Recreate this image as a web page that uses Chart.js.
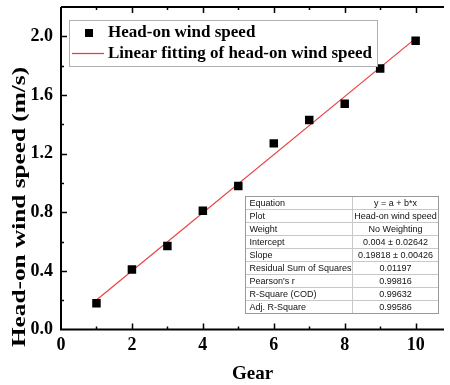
<!DOCTYPE html>
<html>
<head>
<meta charset="utf-8">
<script src="https://cdn.jsdelivr.net/npm/chart.js@4.4.0/dist/chart.umd.min.js"></script>
<style>
  html, body { margin: 0; padding: 0; background: #fff; }
  #wrap { width: 450px; height: 385px; }
</style>
</head>
<body>
<div id="wrap"><canvas id="myChart" width="450" height="385"></canvas></div>
<script>
// measured points
var gears = [1, 2, 3, 4, 5, 6, 7, 8, 9, 10];
var windSpeed = [0.18, 0.41, 0.57, 0.81, 0.98, 1.27, 1.43, 1.54, 1.78, 1.97];

// linear fit end points
var fitX = [1, 10];
var fitY = [0.202, 1.986];

var xTicks = [0, 2, 4, 6, 8, 10];
var yTicks = [0.0, 0.4, 0.8, 1.2, 1.6, 2.0];

var yTitle = 'Head-on wind speed (m/s)';

var statLabels = ['Equation', 'Plot', 'Weight', 'Intercept', 'Slope',
    'Residual Sum of Squares', "Pearson's r", 'R-Square (COD)', 'Adj. R-Square'];
var statValues = ['y = a + b*x', 'Head-on wind speed', 'No Weighting',
    '0.004 \u00b1 0.02642', '0.19818 \u00b1 0.00426', '0.01197', '0.99816', '0.99632', '0.99586'];

var serif = '"Liberation Serif", "Times New Roman", serif';
var sans = '"Liberation Sans", Arial, sans-serif';
var red = 'rgb(232,64,64)';

function pts(xs, ys) {
    var out = [];
    for (var i in xs) out.push({x: xs[i], y: ys[i]});
    return out;
}

function noPad(s) {
    s.paddingTop = 0; s.paddingBottom = 0;
    s.paddingLeft = 0; s.paddingRight = 0;
}

// frame + inward ticks (major and minor), like the Origin plot
var framePlugin = {
    id: 'frame',
    afterDraw: function (chart) {
        var ctx = chart.ctx;
        var a = chart.chartArea;
        var xs = chart.scales.x, ys = chart.scales.y;
        ctx.save();
        ctx.strokeStyle = '#000';
        ctx.lineWidth = 2;
        ctx.beginPath();
        ctx.moveTo(a.left, a.top); ctx.lineTo(a.right, a.top);
        ctx.moveTo(a.left, a.top); ctx.lineTo(a.left, a.bottom);
        ctx.lineTo(a.right, a.bottom);
        ctx.stroke();
        ctx.lineWidth = 1.5;
        ctx.beginPath();
        for (var v = 1; v <= 10; v++) {
            var px = Math.round(xs.getPixelForValue(v)) + 0.5;
            var len = (v % 2 === 0) ? 6 : 3;
            ctx.moveTo(px, a.bottom); ctx.lineTo(px, a.bottom - len);
            ctx.moveTo(px, a.top); ctx.lineTo(px, a.top + len);
        }
        for (var k = 1; k <= 10; k++) {
            var py = Math.round(ys.getPixelForValue(k * 0.2)) + 0.5;
            var l2 = (k % 2 === 0) ? 6 : 3;
            ctx.moveTo(a.left, py); ctx.lineTo(a.left + l2, py);
        }
        ctx.stroke();

        // y axis title, stretched along its length like the source image
        ctx.translate(20, 207);
        ctx.rotate(-Math.PI / 2);
        ctx.scale(1.33, 1);
        ctx.fillStyle = '#000';
        ctx.font = 'bold 19px ' + serif;
        ctx.textAlign = 'center';
        ctx.textBaseline = 'middle';
        ctx.fillText(yTitle, 0, 0);
        ctx.restore();
    }
};

// legend box in the upper left of the plot
var legendPlugin = {
    id: 'boxLegend',
    afterDraw: function (chart) {
        var ctx = chart.ctx;
        var a = chart.chartArea;
        var x0 = a.left + 8, y0 = a.top + 13;
        ctx.save();
        ctx.fillStyle = '#fff';
        ctx.fillRect(x0, y0, 308, 46);
        ctx.strokeStyle = '#b0b0b0';
        ctx.lineWidth = 1;
        ctx.strokeRect(x0 + 0.5, y0 + 0.5, 308, 46);
        ctx.fillStyle = '#000';
        ctx.fillRect(x0 + 16, y0 + 9, 8, 8);
        ctx.strokeStyle = red;
        ctx.lineWidth = 1.3;
        ctx.beginPath();
        ctx.moveTo(x0 + 3, y0 + 33.5); ctx.lineTo(x0 + 35, y0 + 33.5);
        ctx.stroke();
        ctx.fillStyle = '#000';
        ctx.font = 'bold 17px ' + serif;
        ctx.textBaseline = 'middle';
        ctx.fillText(chart.data.datasets[0].label, x0 + 39, y0 + 13);
        ctx.fillText(chart.data.datasets[1].label, x0 + 39, y0 + 34);
        ctx.restore();
    }
};

// fit statistics table
var tablePlugin = {
    id: 'statTable',
    afterDraw: function (chart) {
        var ctx = chart.ctx;
        var x0 = 245.5, y0 = 196.5, w = 193, rh = 13, c1 = 107;
        ctx.save();
        ctx.fillStyle = '#fff';
        ctx.fillRect(x0, y0, w, rh * statLabels.length);
        ctx.strokeStyle = '#c8c8c8';
        ctx.lineWidth = 1;
        ctx.beginPath();
        for (var i = 1; i < statLabels.length; i++) {
            ctx.moveTo(x0, y0 + i * rh); ctx.lineTo(x0 + w, y0 + i * rh);
        }
        ctx.moveTo(x0 + c1, y0); ctx.lineTo(x0 + c1, y0 + rh * statLabels.length);
        ctx.stroke();
        ctx.strokeStyle = '#999';
        ctx.strokeRect(x0, y0, w, rh * statLabels.length);
        ctx.fillStyle = '#111';
        ctx.font = '9px ' + sans;
        ctx.textBaseline = 'middle';
        for (var j in statLabels) {
            var cy = y0 + j * rh + rh / 2 + 0.5;
            ctx.textAlign = 'left';
            ctx.fillText(statLabels[j], x0 + 4, cy);
            ctx.textAlign = 'center';
            ctx.fillText(statValues[j], x0 + c1 + (w - c1) / 2, cy);
        }
        ctx.restore();
    }
};

var ctx = document.getElementById('myChart').getContext('2d');
var mychart = new Chart(ctx, {
    type: 'scatter',
    data: {
        datasets: [{
            label: 'Head-on wind speed',
            data: pts(gears, windSpeed),
            pointStyle: 'rect',
            pointRadius: 6,
            backgroundColor: '#000',
            borderColor: '#000',
            borderWidth: 0,
            order: 1
        }, {
            type: 'line',
            label: 'Linear fitting of head-on wind speed',
            data: pts(fitX, fitY),
            borderColor: red,
            borderWidth: 1.2,
            pointRadius: 0,
            fill: false,
            order: 2
        }]
    },
    options: {
        responsive: false,
        animation: false,
        layout: { padding: { left: 31, right: 0, top: 7, bottom: 0 } },
        plugins: { legend: { display: false }, tooltip: { enabled: false } },
        scales: {
            x: {
                type: 'linear',
                min: 0,
                max: 10.8,
                afterBuildTicks: function (s) {
                    s.ticks = xTicks.map(function (v) { return {value: v}; });
                },
                afterFit: function (s) { noPad(s); s.height -= 6; },
                grid: { display: false, drawTicks: false },
                border: { display: false },
                ticks: {
                    color: '#000',
                    padding: 5,
                    maxRotation: 0,
                    font: { family: serif, size: 18, weight: 'bold' }
                },
                title: {
                    display: true,
                    text: 'Gear',
                    color: '#000',
                    padding: { top: 7, bottom: 0 },
                    font: { family: serif, size: 19, weight: 'bold' }
                }
            },
            y: {
                min: 0,
                max: 2.2,
                afterBuildTicks: function (s) {
                    s.ticks = yTicks.map(function (v) { return {value: v}; });
                },
                afterFit: function (s) { noPad(s); s.width = 30; },
                grid: { display: false, drawTicks: false },
                border: { display: false },
                ticks: {
                    color: '#000',
                    padding: 8,
                    callback: function (v) { return v.toFixed(1); },
                    font: { family: serif, size: 18, weight: 'bold' }
                },
                title: { display: false }
            }
        }
    },
    plugins: [framePlugin, legendPlugin, tablePlugin]
});
</script>
</body>
</html>
